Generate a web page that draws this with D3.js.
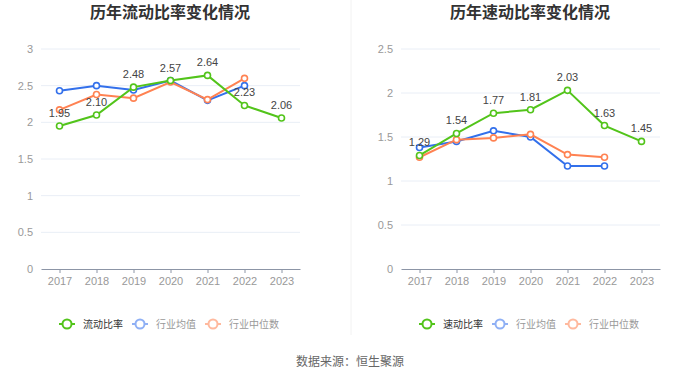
<!DOCTYPE html>
<html><head><meta charset="utf-8">
<script src="https://cdn.jsdelivr.net/npm/d3@7"></script>
<style>
html,body{margin:0;padding:0;background:#fff;}
svg{display:block;font-family:"Liberation Sans","Noto Sans CJK SC",sans-serif;}
</style></head>
<body>
<svg id="c" width="700" height="378"></svg>
<script>
const years = ["2017","2018","2019","2020","2021","2022","2023"];
const currentRatio = [1.95, 2.10, 2.48, 2.57, 2.64, 2.23, 2.06];
const currentIndustryMean = [2.43, 2.50, 2.44, 2.57, 2.30, 2.50, null];
const currentIndustryMedian = [2.17, 2.38, 2.33, 2.55, 2.31, 2.60, null];
const quickRatio = [1.29, 1.54, 1.77, 1.81, 2.03, 1.63, 1.45];
const quickIndustryMean = [1.38, 1.45, 1.57, 1.50, 1.17, 1.17, null];
const quickIndustryMedian = [1.27, 1.47, 1.49, 1.53, 1.30, 1.27, null];
const leftTicks = [0, 0.5, 1, 1.5, 2, 2.5, 3];
const rightTicks = [0, 0.5, 1, 1.5, 2, 2.5];
const seriesNamesLeft = ["流动比率", "行业均值", "行业中位数"];
const seriesNamesRight = ["速动比率", "行业均值", "行业中位数"];
const colors = ["#52c41a", "#3370eb", "#ff8252"];
const legendIconColors = ["#52c41a", "#8fb0f5", "#ffb99e"];
const legendTextColors = ["#333", "#999", "#999"];

const svg = d3.select("#c");

// divider
svg.append("line").attr("x1", 351).attr("x2", 351).attr("y1", 0).attr("y2", 335)
  .attr("stroke", "#f2f2f2").attr("stroke-width", 1);

function panel(opts) {
  const g = svg.append("g");
  const x = d3.scalePoint().domain(years).range([opts.x0, opts.x1]).padding(0.5);
  const y = d3.scaleLinear().domain([0, opts.max]).range([269, 49]);

  // title
  g.append("text").attr("x", opts.cx).attr("y", 12).attr("dy", "0.35em")
    .attr("text-anchor", "middle").attr("font-size", 16).attr("font-weight", "bold")
    .attr("fill", "#333").attr("font-family", "'Noto Sans CJK SC',sans-serif").text(opts.title);

  // grid
  g.selectAll(".grid").data(opts.ticks.filter(t => t > 0)).enter().append("line")
    .attr("x1", opts.x0).attr("x2", opts.x1)
    .attr("y1", d => y(d)).attr("y2", d => y(d))
    .attr("stroke", "#e9eef6").attr("stroke-width", 1);

  // y axis
  const ya = g.append("g").attr("transform", `translate(${opts.x0 - 8},0)`)
    .call(d3.axisLeft(y).tickValues(opts.ticks).tickSize(0).tickPadding(0).tickFormat(d => d3.format("")(d)));
  ya.select(".domain").remove();
  ya.selectAll("text").attr("fill", "#999").attr("font-size", 11).attr("font-family", "'Liberation Sans',sans-serif");

  // x axis
  const xa = g.append("g").attr("transform", `translate(0,269)`)
    .call(d3.axisBottom(x).tickSize(4).tickSizeOuter(0).tickPadding(4));
  xa.select(".domain").attr("stroke", "#8c95a6").attr("stroke-width", 1.2);
  xa.selectAll(".tick line").attr("stroke", "#8c95a6");
  xa.selectAll("text").attr("fill", "#999").attr("font-size", 11).attr("font-family", "'Liberation Sans',sans-serif");

  const line = d3.line().defined(d => d.v != null).x(d => x(d.year)).y(d => y(d.v));

  // draw order: mean, median, main
  const order = [1, 2, 0];
  order.forEach(i => {
    const data = years.map((yr, k) => ({year: yr, v: opts.series[i][k]}));
    g.append("path").datum(data).attr("d", line).attr("fill", "none")
      .attr("stroke", colors[i]).attr("stroke-width", 2);
    g.selectAll(null).data(data.filter(d => d.v != null)).enter().append("circle")
      .attr("cx", d => x(d.year)).attr("cy", d => y(d.v)).attr("r", 3)
      .attr("fill", "#fff").attr("stroke", colors[i]).attr("stroke-width", 1.6);
  });

  // labels for main series
  const main = years.map((yr, k) => ({year: yr, v: opts.series[0][k]}));
  g.selectAll(null).data(main).enter().append("text")
    .attr("x", d => x(d.year)).attr("y", d => y(d.v) - 9)
    .attr("text-anchor", "middle").attr("font-size", 11).attr("fill", "#444")
    .attr("font-family", "'Liberation Sans',sans-serif")
    .text(d => d.v.toFixed(2));

  // legend
  const lg = g.append("g").attr("transform", "translate(0,324)");
  let cur = opts.legendX;
  opts.names.forEach((name, i) => {
    const item = lg.append("g").attr("transform", `translate(${cur},0)`);
    item.append("line").attr("x1", 0).attr("x2", 16).attr("y1", 0).attr("y2", 0)
      .attr("stroke", legendIconColors[i]).attr("stroke-width", 2);
    item.append("circle").attr("cx", 8).attr("cy", 0).attr("r", 4.5)
      .attr("fill", "#fff").attr("stroke", legendIconColors[i]).attr("stroke-width", 2);
    const t = item.append("text").attr("x", 24).attr("y", 0).attr("dy", "0.35em")
      .attr("font-size", 10).attr("fill", legendTextColors[i])
      .attr("font-family", "'Noto Sans CJK SC',sans-serif").text(name);
    const w = t.node().getComputedTextLength();
    cur += 24 + w + 9;
  });
}

panel({x0: 41, x1: 300, cx: 170, max: 3, ticks: leftTicks, title: "历年流动比率变化情况",
  series: [currentRatio, currentIndustryMean, currentIndustryMedian], names: seriesNamesLeft, legendX: 59});
panel({x0: 401, x1: 660, cx: 530, max: 2.5, ticks: rightTicks, title: "历年速动比率变化情况",
  series: [quickRatio, quickIndustryMean, quickIndustryMedian], names: seriesNamesRight, legendX: 419});

svg.append("text").attr("x", 350).attr("y", 362).attr("dy", "0.35em").attr("text-anchor", "middle")
  .attr("font-size", 12).attr("fill", "#666").attr("font-family", "'Noto Sans CJK SC',sans-serif")
  .text("数据来源：恒生聚源");
</script>
</body></html>
